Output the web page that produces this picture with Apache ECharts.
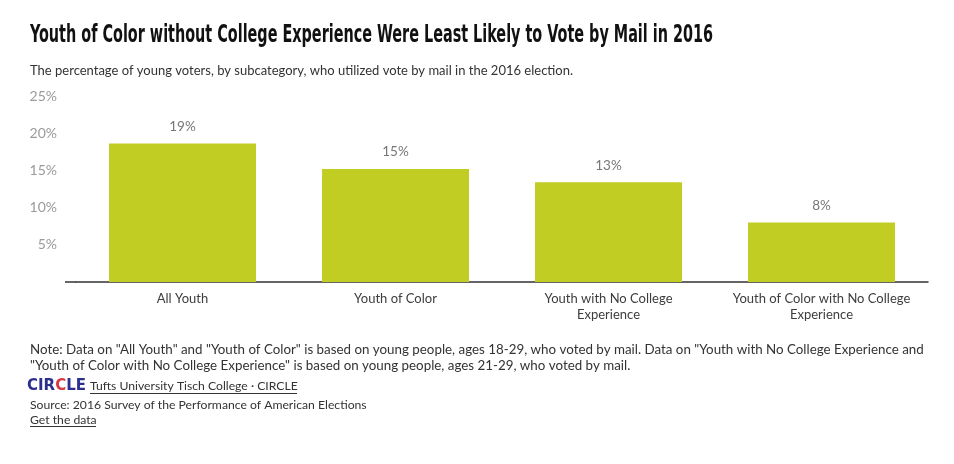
<!DOCTYPE html>
<html>
<head>
<meta charset="utf-8">
<script src="https://cdn.jsdelivr.net/npm/echarts@6/dist/echarts.min.js"></script>
<style>
html,body{margin:0;padding:0;background:#fff;}
#chart{width:954px;height:464px;}
</style>
</head>
<body>
<div id="chart"></div>
<script>
const categories = ["All Youth", "Youth of Color", "Youth with No College\nExperience", "Youth of Color with No College\nExperience"];
const values = [18.6, 15.2, 13.4, 8.0];
const yTicks = [0, 5, 10, 15, 20, 25];
const titleText = "Youth of Color without College Experience Were Least Likely to Vote by Mail in 2016";
const subtitleText = "The percentage of young voters, by subcategory, who utilized vote by mail in the 2016 election.";
const noteLines = [
  "Note: Data on \"All Youth\" and \"Youth of Color\" is based on young people, ages 18-29, who voted by mail. Data on \"Youth with No College Experience and",
  "\"Youth of Color with No College Experience\" is based on young people, ages 21-29, who voted by mail."
];
const creditText = "Tufts University Tisch College · CIRCLE";
const sourceText = "Source: 2016 Survey of the Performance of American Elections";
const dataLinkText = "Get the data";

const chart = echarts.init(document.getElementById('chart'), null, {renderer: 'canvas'});
const FONT = 'Lato, "Open Sans", sans-serif';
const TITLE_FONT = '"DejaVu Sans Condensed", "DejaVu Sans", sans-serif';
const TITLE_SIZE = 25;
const TITLE_WIDTH = 683;

const cv = document.createElement('canvas').getContext('2d');
cv.font = 'bold ' + TITLE_SIZE + 'px ' + TITLE_FONT;
const titleScale = TITLE_WIDTH / cv.measureText(titleText).width;

chart.setOption({
  animation: false,
  title: [{
    text: subtitleText,
    left: 25, top: 59,
    textStyle: {fontFamily: FONT, fontWeight: 'normal', fontSize: 13, color: '#333'}
  }],
  grid: {left: 76, right: 26, top: 96, bottom: 182, containLabel: false},
  xAxis: {
    type: 'category',
    data: categories,
    axisTick: {show: false},
    axisLine: {lineStyle: {color: '#333', width: 1.5}},
    axisLabel: {fontFamily: FONT, fontSize: 13, color: '#3d3d3d', lineHeight: 16, margin: 9, interval: 0}
  },
  yAxis: {
    type: 'value',
    min: yTicks[0], max: yTicks[yTicks.length - 1], interval: 5,
    splitLine: {show: false},
    axisLine: {show: false},
    axisTick: {show: false},
    axisLabel: {
      fontFamily: FONT, fontSize: 14, color: '#9a9a9a', margin: 19,
      formatter: v => v === 0 ? '' : v + '%'
    }
  },
  series: [{
    type: 'bar',
    data: values,
    barWidth: '69%',
    itemStyle: {color: '#c2cd23'},
    label: {
      show: true, position: 'top', distance: 10,
      fontFamily: FONT, fontSize: 13.5, color: '#777',
      formatter: p => Math.round(p.value) + '%'
    }
  }],
  graphic: [
    {type: 'text', x: 30, y: 23, scaleX: titleScale, originX: 0, originY: 0,
      style: {text: titleText, fontFamily: TITLE_FONT, fontWeight: 'bold', fontSize: TITLE_SIZE, fill: '#111', verticalAlign: 'top'}},
    {type: 'line', shape: {x1: 65, y1: 282, x2: 76, y2: 282}, style: {stroke: '#333', lineWidth: 1.5}, silent: true},
    {type: 'text', left: 30, top: 342, style: {text: noteLines.join('\n'), fontFamily: FONT, fontSize: 13.35, lineHeight: 16, fill: '#333'}},
    {type: 'text', left: 27, top: 379, style: {
      text: '{a|CIR}{b|C}{a|LE}',
      rich: {
        a: {fontFamily: '"DejaVu Sans", sans-serif', fontWeight: 'bold', fontSize: 15, fill: '#2c2f8e', color: '#2c2f8e'},
        b: {fontFamily: '"DejaVu Sans", sans-serif', fontWeight: 'bold', fontSize: 15, fill: '#d9363e', color: '#d9363e'}
      }
    }},
    {type: 'text', left: 90, top: 380, style: {text: creditText, fontFamily: FONT, fontSize: 12.2, fill: '#333'}},
    {type: 'line', shape: {x1: 90, y1: 393.5, x2: 297, y2: 393.5}, style: {stroke: '#333', lineWidth: 1}},
    {type: 'text', left: 30, top: 399, style: {text: sourceText, fontFamily: FONT, fontSize: 12.2, fill: '#333'}},
    {type: 'text', left: 30, top: 414, style: {text: dataLinkText, fontFamily: FONT, fontSize: 12.2, fill: '#333'}},
    {type: 'line', shape: {x1: 30, y1: 426.5, x2: 96, y2: 426.5}, style: {stroke: '#333', lineWidth: 1}}
  ]
});
</script>
</body>
</html>
